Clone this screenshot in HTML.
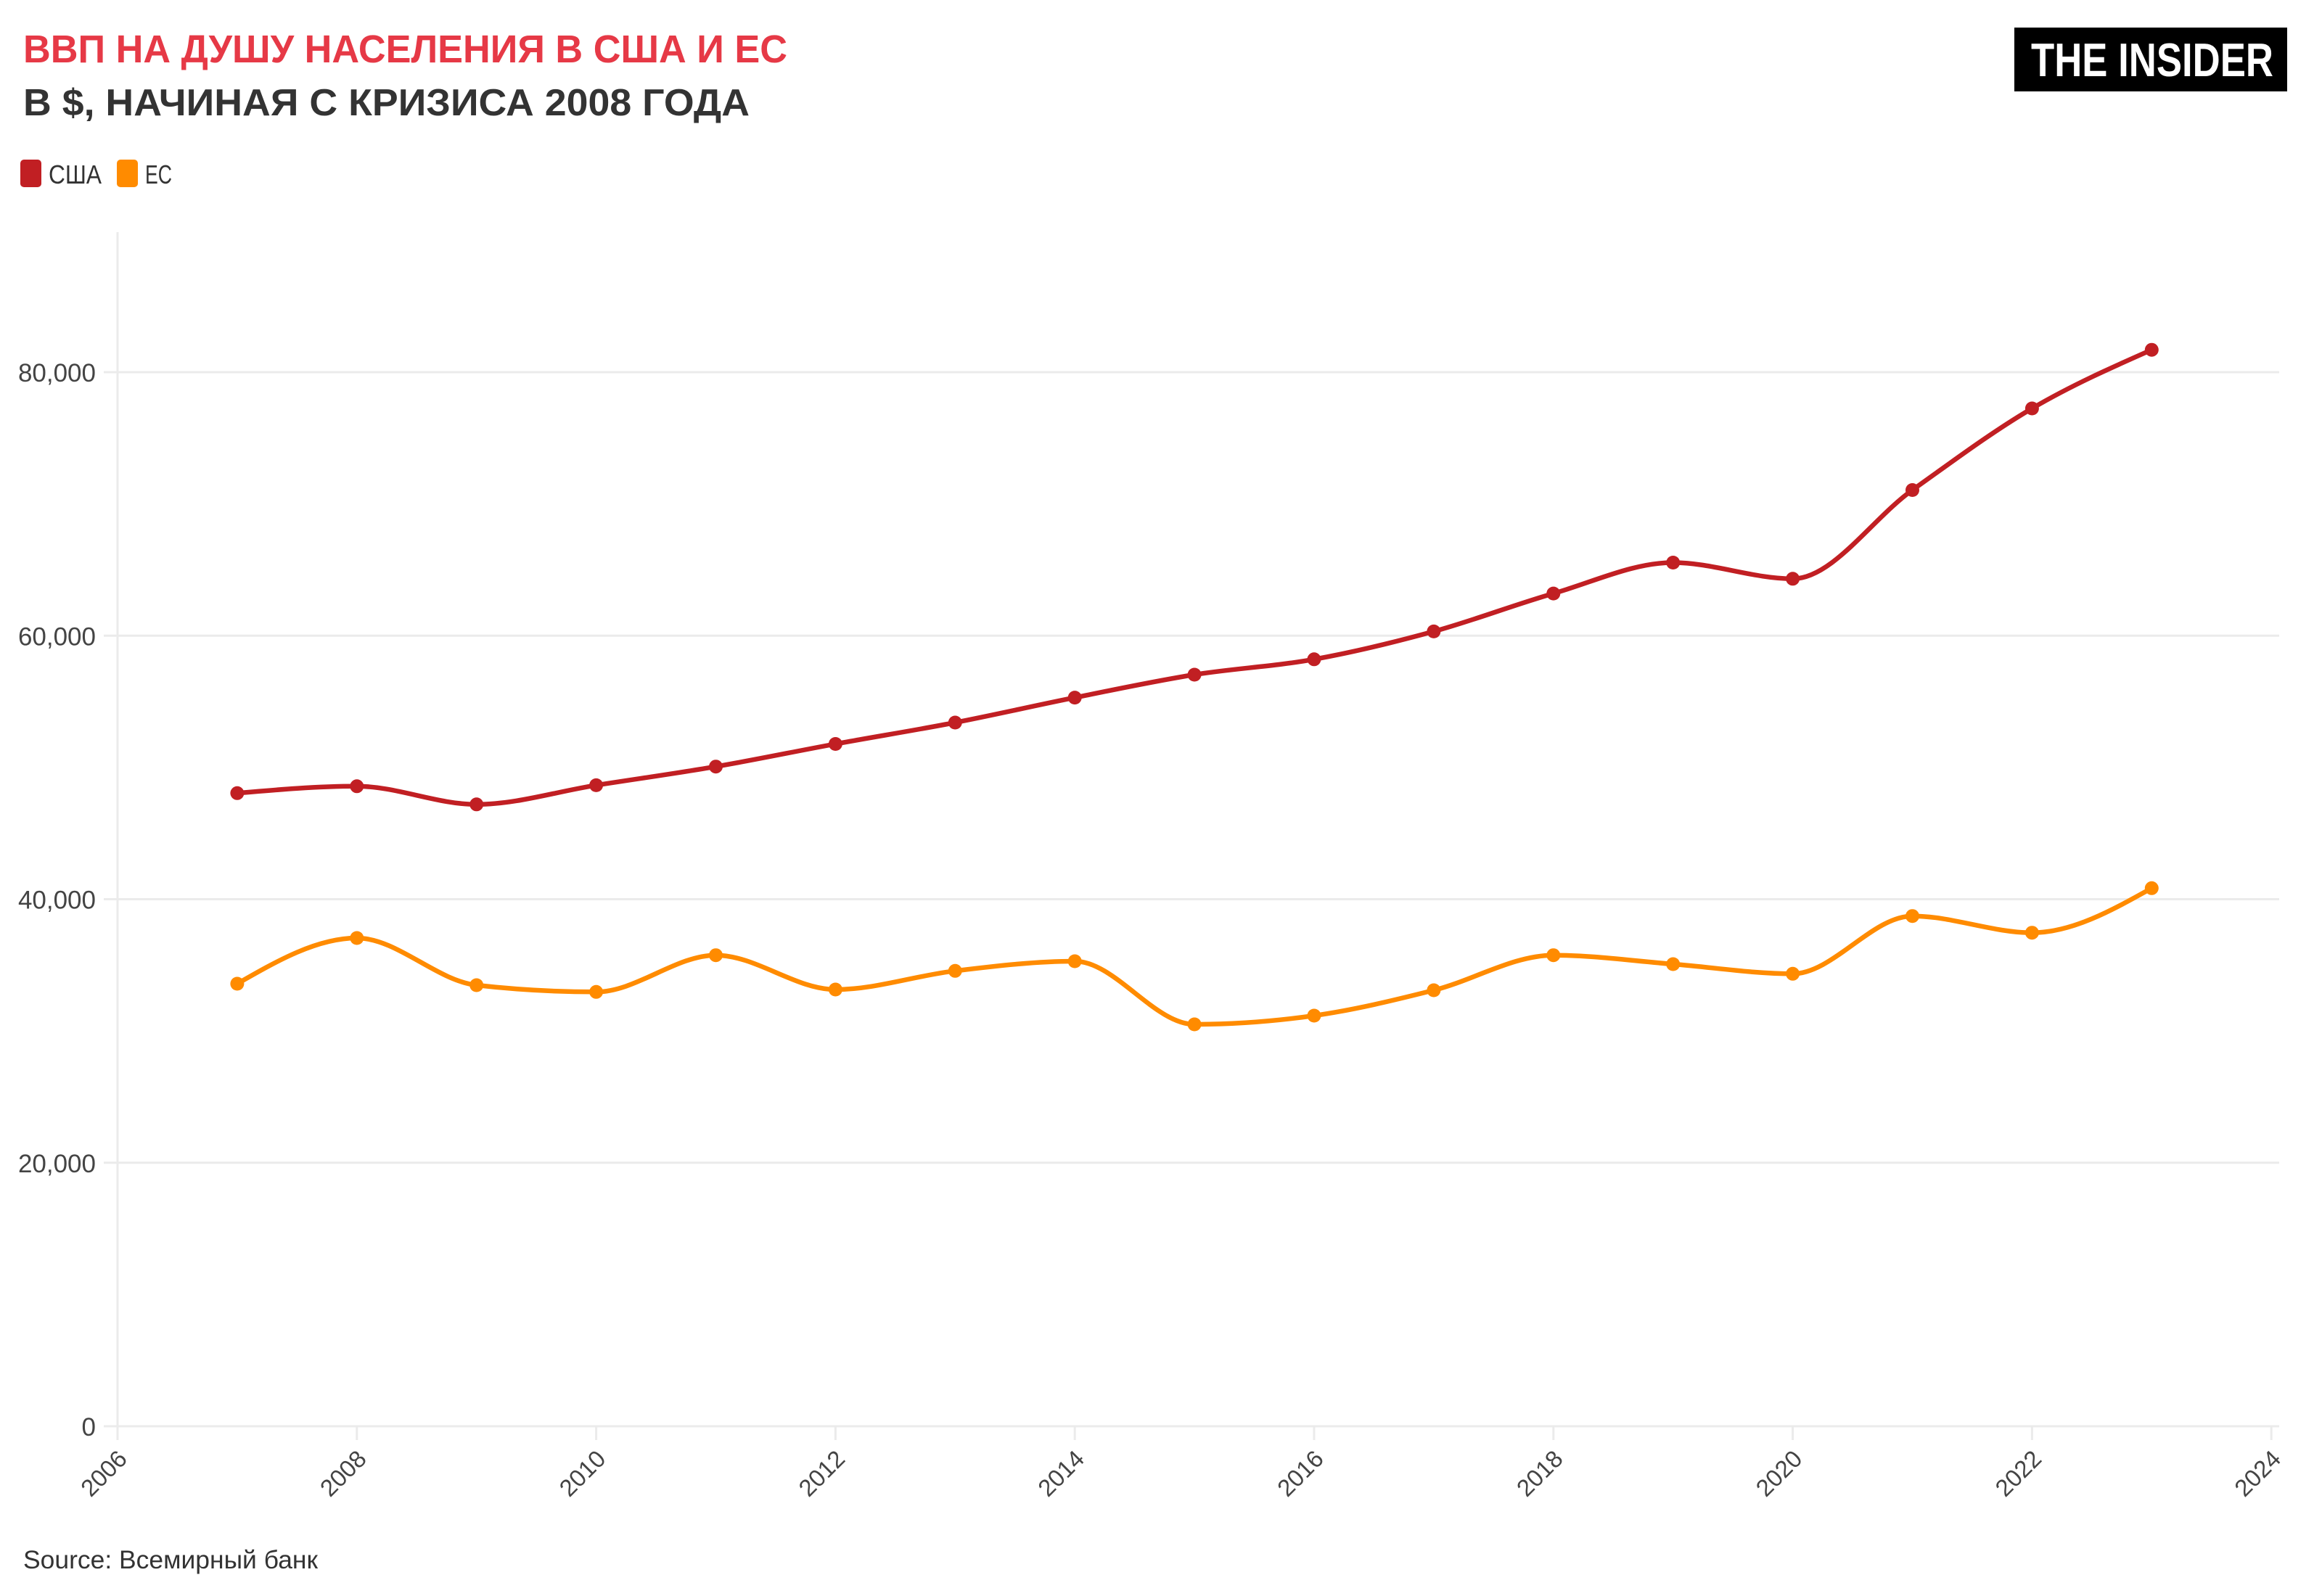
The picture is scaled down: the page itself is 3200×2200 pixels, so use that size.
<!DOCTYPE html>
<html>
<head>
<meta charset="utf-8">
<style>
  html, body { margin:0; padding:0; background:#ffffff; }
  body { width:3200px; height:2200px; overflow:hidden; }
  svg { display:block; }
  text { font-family: "Liberation Sans", "DejaVu Sans", sans-serif; }
</style>
</head>
<body>
<svg id="chart" width="3200" height="2200" viewBox="0 0 3200 2200" xmlns="http://www.w3.org/2000/svg">
  <rect x="0" y="0" width="3200" height="2200" fill="#ffffff"/>

  <!-- Titles -->
  <text x="32" y="86" font-size="54" font-weight="bold" fill="#e63946" textLength="1053" lengthAdjust="spacingAndGlyphs">ВВП НА ДУШУ НАСЕЛЕНИЯ В США И ЕС</text>
  <text x="32" y="159" font-size="52" font-weight="bold" fill="#333333" textLength="1001" lengthAdjust="spacingAndGlyphs">В $, НАЧИНАЯ С КРИЗИСА 2008 ГОДА</text>

  <!-- Logo -->
  <rect x="2776" y="38" width="376" height="88" fill="#000000"/>
  <text x="2799" y="105" font-size="65" font-weight="bold" fill="#ffffff" textLength="334" lengthAdjust="spacingAndGlyphs">THE INSIDER</text>

  <!-- Legend -->
  <rect x="28" y="220" width="29" height="38" rx="5" ry="5" fill="#c11f23"/>
  <text x="67" y="253" font-size="36" fill="#333333" textLength="73" lengthAdjust="spacingAndGlyphs">США</text>
  <rect x="161" y="220" width="29" height="38" rx="5" ry="5" fill="#ff8b00"/>
  <text x="200" y="253" font-size="36" fill="#333333" textLength="37" lengthAdjust="spacingAndGlyphs">ЕС</text>

  <!-- Gridlines -->
  <g stroke="#ebebeb" stroke-width="3">
    <line x1="143" y1="1966" x2="3141" y2="1966"/>
    <line x1="143" y1="1602.75" x2="3141" y2="1602.75"/>
    <line x1="143" y1="1239.5" x2="3141" y2="1239.5"/>
    <line x1="143" y1="876.25" x2="3141" y2="876.25"/>
    <line x1="143" y1="513" x2="3141" y2="513"/>
    <!-- y axis line -->
    <line x1="162" y1="320" x2="162" y2="1985"/>
  </g>
  <g id="xticks" stroke="#ebebeb" stroke-width="3"></g>

  <!-- Y labels -->
  <g font-size="35" fill="#444444" text-anchor="end">
    <text x="132" y="1979">0</text>
    <text x="132" y="1615.75">20,000</text>
    <text x="132" y="1252.5">40,000</text>
    <text x="132" y="889.25">60,000</text>
    <text x="132" y="526">80,000</text>
  </g>

  <!-- X labels -->
  <g id="xlabels" font-size="33" fill="#444444" text-anchor="end"></g>

  <!-- Series -->
  <path id="usLine" fill="none" stroke="#c11f23" stroke-width="6.5" stroke-linejoin="round" stroke-linecap="round"/>
  <path id="euLine" fill="none" stroke="#ff8b00" stroke-width="6.5" stroke-linejoin="round" stroke-linecap="round"/>
  <g id="usDots" fill="#c11f23"></g>
  <g id="euDots" fill="#ff8b00"></g>

  <!-- Source -->
  <text x="32" y="2162" font-size="35" fill="#333333" textLength="406" lengthAdjust="spacingAndGlyphs">Source: Всемирный банк</text>
</svg>

<script>
(function(){
  var NS = "http://www.w3.org/2000/svg";
  function X(year){ return 162 + (year - 2006) * 164.9; }

  var usY = [1093.3,1083.8,1108.8,1082.4,1056.7,1025.5,996,961.6,930,908.8,870.4,818.1,775.5,797.8,675.5,563,482.2];
  var euY = [1356,1293,1358,1367.3,1316.7,1364,1338.3,1325,1412,1400,1365,1316.7,1329,1342.3,1262.7,1285.7,1224.3];

  function pts(arr){
    var p = [];
    for (var i=0;i<arr.length;i++) p.push([X(2007+i), arr[i]]);
    return p;
  }
  function sign(x){ return x < 0 ? -1 : 1; }
  function slope3(p0,p1,p2){
    var h0 = p1[0]-p0[0], h1 = p2[0]-p1[0];
    var s0 = (p1[1]-p0[1])/h0, s1 = (p2[1]-p1[1])/h1;
    var p = (s0*h1 + s1*h0)/(h0+h1);
    var r = (sign(s0)+sign(s1)) * Math.min(Math.abs(s0), Math.abs(s1), 0.5*Math.abs(p));
    return r || 0;
  }
  function slope2(p0,p1,t){
    var h = p1[0]-p0[0];
    return h ? (3*(p1[1]-p0[1])/h - t)/2 : t;
  }
  function monotonePath(p){
    var n = p.length, t = new Array(n);
    for (var i=1;i<n-1;i++) t[i] = slope3(p[i-1],p[i],p[i+1]);
    t[0] = slope2(p[0],p[1],t[1]);
    t[n-1] = slope2(p[n-2],p[n-1],t[n-2]);
    var d = "M" + p[0][0].toFixed(2) + "," + p[0][1].toFixed(2);
    for (var j=0;j<n-1;j++){
      var x0=p[j][0], y0=p[j][1], x1=p[j+1][0], y1=p[j+1][1];
      var dx = (x1-x0)/3;
      d += "C" + (x0+dx).toFixed(2) + "," + (y0+dx*t[j]).toFixed(2) + " " +
                 (x1-dx).toFixed(2) + "," + (y1-dx*t[j+1]).toFixed(2) + " " +
                 x1.toFixed(2) + "," + y1.toFixed(2);
    }
    return d;
  }
  var us = pts(usY), eu = pts(euY);
  document.getElementById("usLine").setAttribute("d", monotonePath(us));
  document.getElementById("euLine").setAttribute("d", monotonePath(eu));

  function dots(gid, p){
    var g = document.getElementById(gid);
    for (var i=0;i<p.length;i++){
      var c = document.createElementNS(NS,"circle");
      c.setAttribute("cx", p[i][0]); c.setAttribute("cy", p[i][1]); c.setAttribute("r", 9.5);
      g.appendChild(c);
    }
  }
  dots("usDots", us); dots("euDots", eu);

  var xt = document.getElementById("xticks"), xl = document.getElementById("xlabels");
  for (var y=2006; y<=2024; y+=2){
    var x = X(y);
    var l = document.createElementNS(NS,"line");
    l.setAttribute("x1",x); l.setAttribute("x2",x); l.setAttribute("y1",1966); l.setAttribute("y2",1985);
    xt.appendChild(l);
    var t = document.createElementNS(NS,"text");
    var ax = x + 15, ay = 2013;
    t.setAttribute("x", ax); t.setAttribute("y", ay);
    t.setAttribute("transform","rotate(-45 " + ax + " " + ay + ")");
    t.textContent = String(y);
    xl.appendChild(t);
  }
})();
</script>
</body>
</html>
